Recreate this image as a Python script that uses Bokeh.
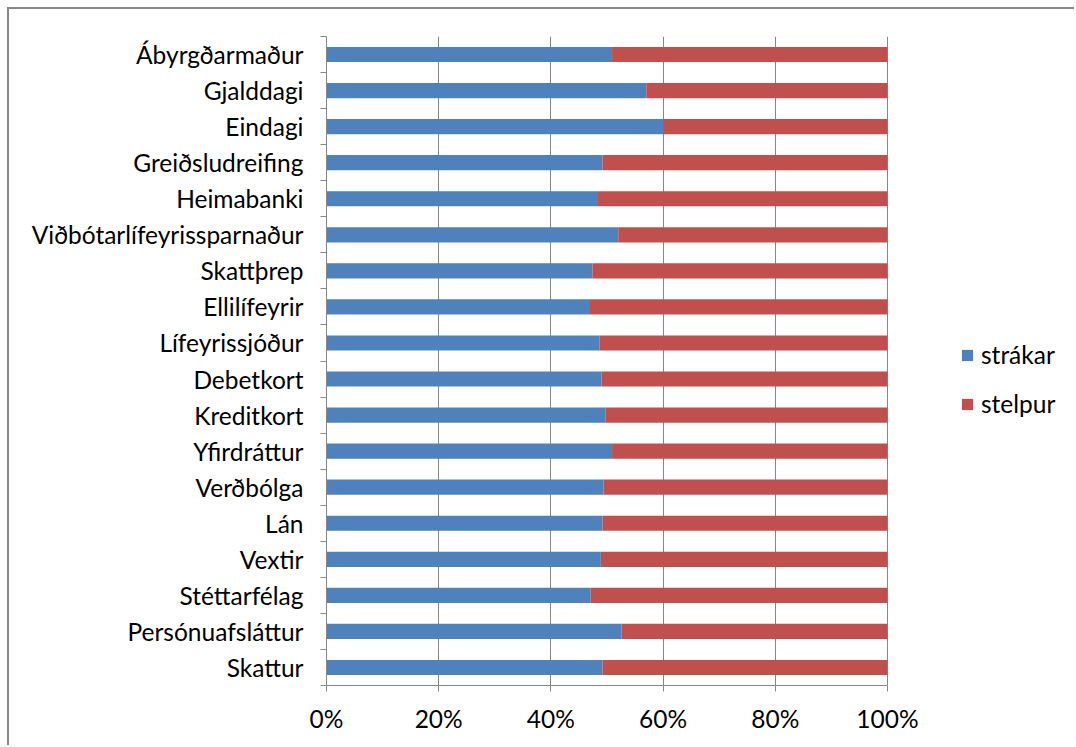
from bokeh.plotting import figure
from bokeh.models import (Range1d, FixedTicker, NumeralTickFormatter, Legend,
                          LegendItem, ColumnDataSource)
from bokeh.embed import file_html
from bokeh.resources import INLINE

# Survey terms, listed top to bottom as shown
categories = ["Ábyrgðarmaður", "Gjalddagi", "Eindagi", "Greiðsludreifing", "Heimabanki",
              "Viðbótarlífeyrissparnaður", "Skattþrep", "Ellilífeyrir", "Lífeyrissjóður",
              "Debetkort", "Kreditkort", "Yfirdráttur", "Verðbólga", "Lán", "Vextir",
              "Stéttarfélag", "Persónuafsláttur", "Skattur"]
# Share of answers from boys (strákar) and girls (stelpur)
strakar = [0.509, 0.570, 0.600, 0.492, 0.484, 0.520, 0.474, 0.468, 0.487,
           0.490, 0.497, 0.509, 0.494, 0.492, 0.489, 0.471, 0.526, 0.492]
stelpur = [0.491, 0.430, 0.400, 0.508, 0.516, 0.480, 0.526, 0.532, 0.513,
           0.510, 0.503, 0.491, 0.506, 0.508, 0.511, 0.529, 0.474, 0.508]
series_names = ["strákar", "stelpur"]
series_colors = ["#4F81BD", "#C0504D"]
x_ticks = [0.0, 0.2, 0.4, 0.6, 0.8, 1.0]

FONT = "Lato"
FSIZE = "24.5px"
GRAY = "#878787"

# The frame runs to the right edge so the legend can sit beside the bars;
# the 0..100% scale spans BAR_PX of the FRAME_PX-wide frame.
FRAME_PX = 750
BAR_PX = 561

n = len(categories)
ypos = [float(n - 1 - i) for i in range(n)]
totals = [a + b for a, b in zip(strakar, stelpur)]
src = ColumnDataSource(dict(
    y=ypos,
    s=[a / t for a, t in zip(strakar, totals)],
    g=[b / t for b, t in zip(stelpur, totals)],
))

p = figure(width=1067, height=738, x_range=Range1d(0, FRAME_PX / BAR_PX),
           y_range=Range1d(-0.5, n - 0.5),
           output_backend="svg", toolbar_location=None,
           min_border_left=317, min_border_right=0, min_border_top=27, min_border_bottom=62)
p.margin = (7, 0, 0, 7)
p.styles = {"border-left": "2px solid " + GRAY, "border-top": "2px solid " + GRAY}
p.outline_line_color = None
p.background_fill_color = "white"
p.border_fill_color = "white"

renderers = p.hbar_stack(["s", "g"], y="y", height=0.42, color=series_colors,
                         line_color=None, source=src)

# x axis: percentage scale
p.xaxis.ticker = FixedTicker(ticks=x_ticks, minor_ticks=[])
p.xaxis.bounds = (0, 1)
p.xaxis.formatter = NumeralTickFormatter(format="0%")
p.xaxis.major_tick_out = 6
p.xaxis.major_tick_in = 0
p.xaxis.minor_tick_line_color = None
p.xaxis.axis_line_color = GRAY
p.xaxis.major_tick_line_color = GRAY
p.xaxis.major_label_standoff = 12
p.xaxis.major_label_text_font = FONT
p.xaxis.major_label_text_font_size = FSIZE
p.xaxis.major_label_text_color = "black"

# y axis: category names, ticks between categories
p.yaxis.ticker = FixedTicker(ticks=ypos, minor_ticks=[k - 0.5 for k in range(n + 1)])
p.yaxis.major_label_overrides = {y: c for y, c in zip(ypos, categories)}
p.yaxis.major_tick_line_color = None
p.yaxis.major_tick_out = 0
p.yaxis.major_tick_in = 0
p.yaxis.minor_tick_out = 6
p.yaxis.minor_tick_in = 0
p.yaxis.minor_tick_line_color = GRAY
p.yaxis.axis_line_color = GRAY
p.yaxis.major_label_standoff = 17
p.yaxis.major_label_text_font = FONT
p.yaxis.major_label_text_font_size = FSIZE
p.yaxis.major_label_text_color = "black"

p.xgrid.ticker = FixedTicker(ticks=x_ticks, minor_ticks=[])
p.xgrid.grid_line_color = GRAY
p.ygrid.grid_line_color = None

# legend to the right of the bars
legend = Legend(items=[LegendItem(label=name, renderers=[r])
                       for name, r in zip(series_names, renderers)],
                location=(634, 267), orientation="vertical")
legend.glyph_width = 14
legend.glyph_height = 14
legend.padding = 0
legend.margin = 0
legend.spacing = 20
legend.label_standoff = 7
legend.border_line_color = None
legend.background_fill_alpha = 0
legend.label_text_font = FONT
legend.label_text_font_size = FSIZE
legend.label_text_color = "black"
p.add_layout(legend)

open("out.html", "w").write(file_html(p, INLINE))
